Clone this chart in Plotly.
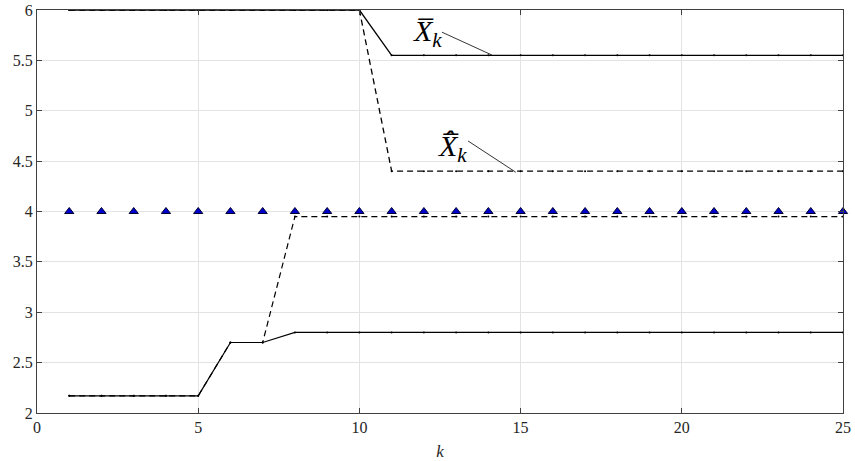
import plotly.graph_objects as go

k = list(range(1, 26))
upper_solid = [6.0]*10 + [5.55]*15
upper_dashed = [6.0]*10 + [4.4]*15
target = [4.0]*25
lower_solid = [2.17]*5 + [2.7, 2.7] + [2.8]*18
lower_dashed = [2.17]*5 + [2.7, 2.7] + [3.95]*18

fig = go.Figure()
fig.add_trace(go.Scatter(x=k, y=upper_dashed, mode="lines+markers",
                         line=dict(color="black", width=1.3, dash="6px,4px"),
                         marker=dict(size=2, color="black")))
fig.add_trace(go.Scatter(x=k, y=upper_solid, mode="lines+markers",
                         line=dict(color="black", width=1.3),
                         marker=dict(size=2, color="black")))
fig.add_trace(go.Scatter(x=k, y=lower_dashed, mode="lines+markers",
                         line=dict(color="black", width=1.2, dash="6px,4px"),
                         marker=dict(size=2, color="black")))
fig.add_trace(go.Scatter(x=k, y=lower_solid, mode="lines+markers",
                         line=dict(color="black", width=1.2),
                         marker=dict(size=2, color="black")))
fig.add_trace(go.Scatter(x=k, y=target, mode="markers", cliponaxis=False,
                         marker=dict(symbol="triangle-up", size=8, color="#0000cc",
                                     line=dict(color="#000033", width=1))))

font_serif = "Liberation Serif, Times New Roman, DejaVu Serif, serif"
fig.add_shape(type="line", x0=12.56, y0=5.78, x1=14.11, y1=5.553,
              xref="x", yref="y", line=dict(color="black", width=0.8))
fig.add_shape(type="line", x0=13.37, y0=4.70, x1=14.85, y1=4.39,
              xref="x", yref="y", line=dict(color="black", width=0.8))
fig.add_annotation(x=12.1, y=5.77, xref="x", yref="y", showarrow=False,
                   text="<i>X\u0305<sub>k</sub></i>",
                   font=dict(family=font_serif, size=30, color="black"))
fig.add_annotation(x=12.9, y=4.63, xref="x", yref="y", showarrow=False,
                   text="<i>X\u0305\u0302<sub>k</sub></i>",
                   font=dict(family=font_serif, size=30, color="black"))

axis_common = dict(showgrid=True, gridcolor="#e3e3e3", gridwidth=1,
                   showline=True, linecolor="#404040", linewidth=1,
                   mirror="ticks", ticks="inside", ticklen=5, tickcolor="#404040",
                   zeroline=False, automargin=False,
                   tickfont=dict(family=font_serif, size=16, color="#262626"))
fig.update_xaxes(range=[0, 25], tick0=0, dtick=5,
                 title=dict(text="<i>k</i>", font=dict(family=font_serif, size=17, color="#262626"), standoff=10),
                 **axis_common)
fig.update_yaxes(range=[2, 6], tick0=2, dtick=0.5, **axis_common)
fig.update_layout(width=855, height=461, showlegend=False,
                  font=dict(family=font_serif),
                  plot_bgcolor="white", paper_bgcolor="white",
                  margin=dict(l=37, r=12, t=10, b=48))
fig.write_html("out.html", config={"displayModeBar": False},
               post_script="document.body.style.margin='0';")
